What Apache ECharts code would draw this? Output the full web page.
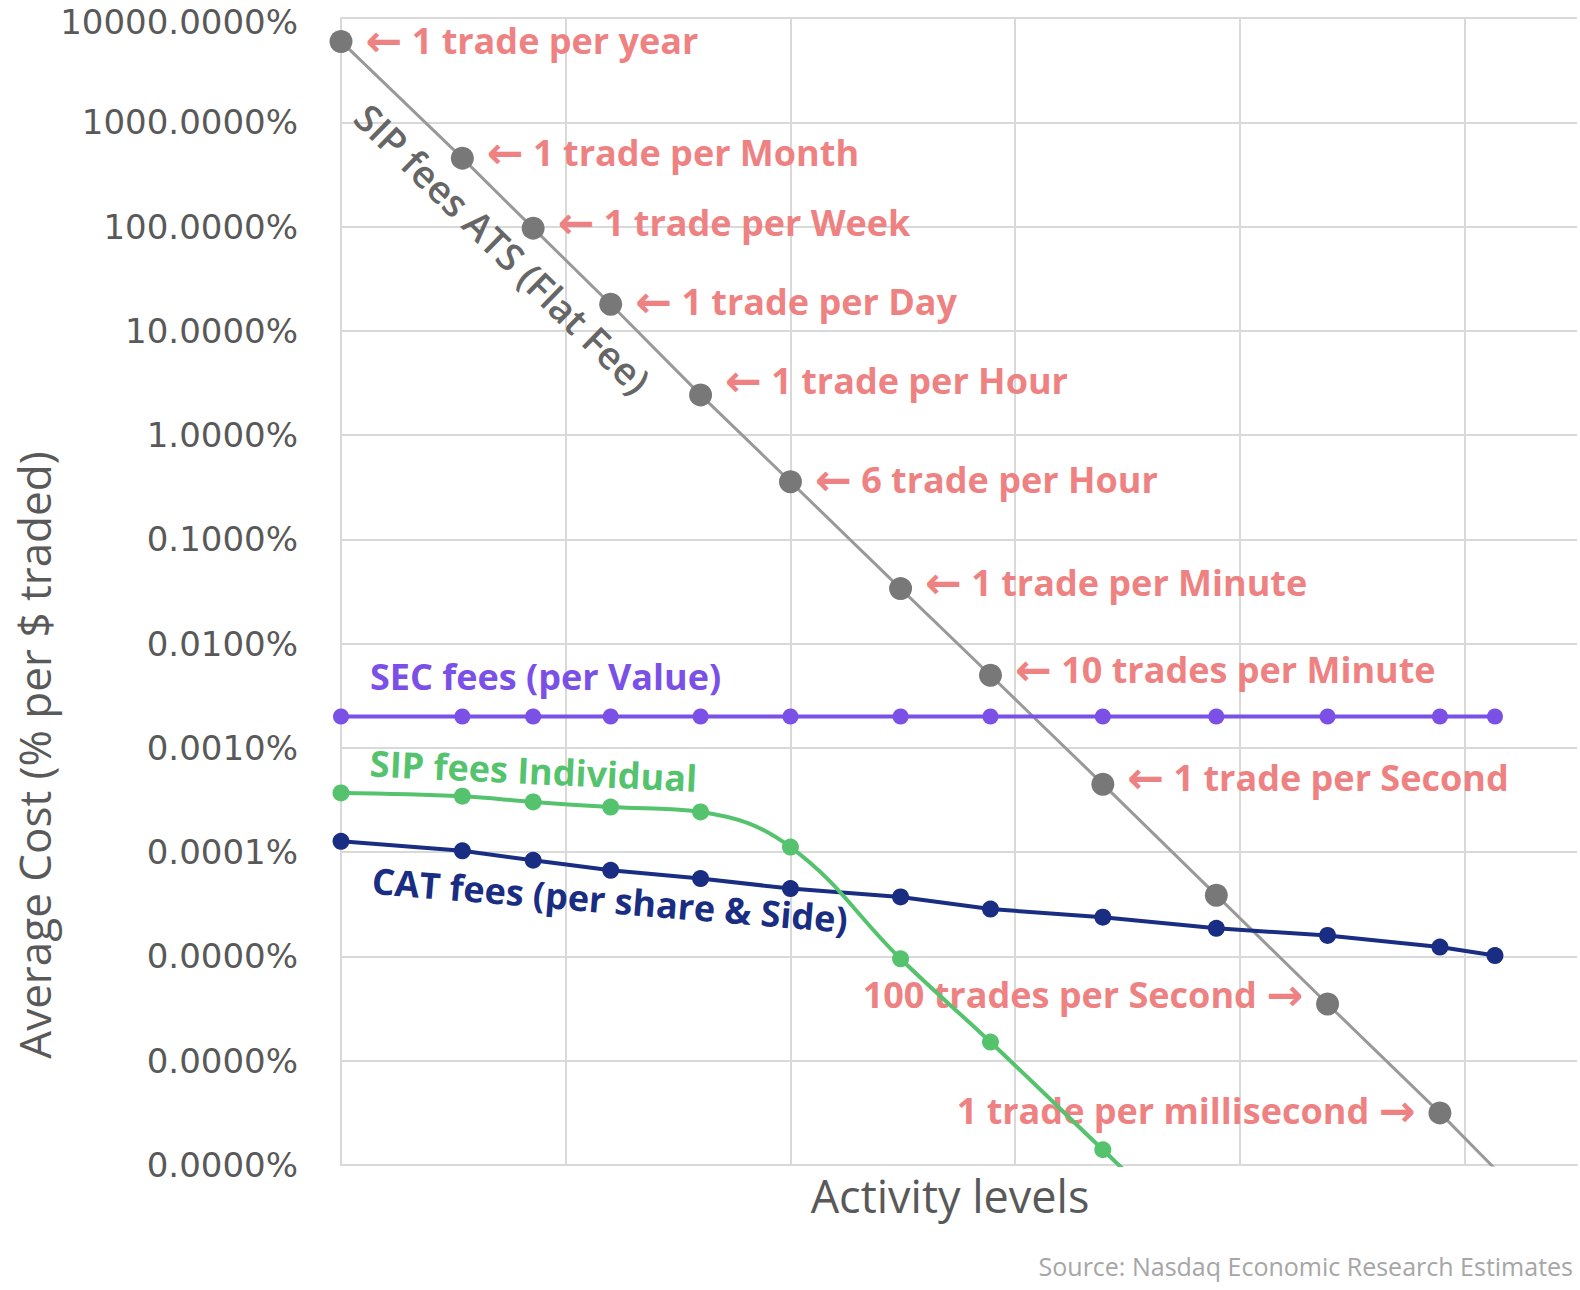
<!DOCTYPE html>
<html><head><meta charset="utf-8">
<script src="https://cdn.jsdelivr.net/npm/echarts@6/dist/echarts.min.js"></script>
<style>html,body{margin:0;padding:0;background:#fff}#c{width:1580px;height:1290px}</style>
</head><body><div id="c"></div>
<script>
// Activity level positions (unitless, shared by all series)
const activityLevels = [0, 0.54, 0.855, 1.20, 1.60, 2.00, 2.49, 2.89, 3.39, 3.895, 4.39, 4.89, 5.135];
// Average cost, % per $ traded
const sipAtsFee = [5960, 453, 96.5, 18.0, 2.43, 0.357, 0.0337, 0.00498, 0.000449, 0.0000387, 0.0000035, 0.000000316, 0.000000092];
const secFee = [0.002, 0.002, 0.002, 0.002, 0.002, 0.002, 0.002, 0.002, 0.002, 0.002, 0.002, 0.002, 0.002];
const sipIndividualFee = [0.00037, 0.000344, 0.000303, 0.000271, 0.000243, 0.000112, 0.0000095, 0.00000151, 0.00000014, 0.0000000128, null, null, null];
const catFee = [0.000127, 0.000103, 0.0000837, 0.000067, 0.0000558, 0.0000448, 0.0000372, 0.0000285, 0.0000238, 0.0000186, 0.0000159, 0.0000123, 0.0000102];
const tradeRateLabels = ['← 1 trade per year', '← 1 trade per Month', '← 1 trade per Week', '← 1 trade per Day', '← 1 trade per Hour', '← 6 trade per Hour', '← 1 trade per Minute', '← 10 trades per Minute', '← 1 trade per Second', '', '100 trades per Second →', '1 trade per millisecond →', ''];
const seriesNames = ['SIP fees ATS (Flat Fee)', 'SEC fees (per Value)', 'SIP fees Individual', 'CAT fees (per share & Side)'];
const yTitle = 'Average Cost (% per $ traded)';
const xTitle = 'Activity levels';
const sourceNote = 'Source: Nasdaq Economic Research Estimates';

// layout nudges (pixels) for rate labels
const labelShiftY = [-1, -6, -6, -3, -14, -2, -6, -6, -7, 0, -9, -2, 0];

const GRID = '#d9d9d9';
const TXT = '#595959';
const SALMON = '#ee8282';
const UI = '"Open Sans", "Noto Sans", sans-serif';

const pairs = arr => activityLevels.map((x, i) => [x, arr[i]]).filter(p => p[1] != null);
const richArrows = t => t.replace(/[←→]/g, m => '{a|' + m + '}');

const grayData = activityLevels.map((x, i) => {
  const item = { value: [x, sipAtsFee[i]] };
  const t = tradeRateLabels[i];
  if (t) {
    item.label = { show: true, formatter: richArrows(t), position: t.endsWith('→') ? 'left' : 'right', distance: 13, offset: [0, labelShiftY[i]] };
  }
  return item;
});

const chart = echarts.init(document.getElementById('c'), null, { renderer: 'svg', width: 1580, height: 1290 });
const option = {
  animation: false,
  backgroundColor: '#ffffff',
  grid: { left: 341, top: 18, right: 3, bottom: 125, outerBoundsMode: 'none' },
  xAxis: {
    type: 'value', min: 0, max: 5.5, interval: 1,
    axisLabel: { show: false }, axisTick: { show: false },
    axisLine: { show: true, onZero: false, lineStyle: { color: GRID, width: 2 } },
    splitLine: { show: true, showMaxLine: false, lineStyle: { color: GRID, width: 2 } }
  },
  yAxis: {
    type: 'log', logBase: 10, min: 1e-7, max: 1e4, interval: 1,
    axisLabel: {
      formatter: v => {
        const s = Number(v).toFixed(4) + '%';
        return v >= 5000 ? '{top|' + s + '}' : s;
      },
      margin: 43, color: TXT, fontSize: 34, fontFamily: '"DejaVu Sans"',
      rich: { top: { color: TXT, fontSize: 34, fontFamily: '"DejaVu Sans"', padding: [8, 0, 0, 0] } }
    },
    axisTick: { show: false },
    axisLine: { show: true, lineStyle: { color: GRID, width: 2 } },
    splitLine: { show: true, lineStyle: { color: GRID, width: 2 } }
  },
  series: [
    {
      name: seriesNames[0], type: 'line', data: grayData, symbol: 'circle', symbolSize: 23,
      itemStyle: { color: '#787878' }, lineStyle: { color: '#999999', width: 3 },
      label: {
        color: SALMON, fontFamily: UI, fontWeight: 'bold', fontSize: 36,
        rich: { a: { color: SALMON, fontFamily: '"DejaVu Sans"', fontWeight: 'bold', fontSize: 44 } }
      },
      z: 2
    },
    {
      name: seriesNames[1], type: 'line', data: pairs(secFee), symbol: 'circle', symbolSize: 16,
      itemStyle: { color: '#7b50e6' }, lineStyle: { color: '#7b50e6', width: 4 }, z: 3
    },
    {
      name: seriesNames[3], type: 'line', data: pairs(catFee), symbol: 'circle', symbolSize: 17,
      itemStyle: { color: '#192d82' }, lineStyle: { color: '#192d82', width: 4 }, z: 3
    },
    {
      name: seriesNames[2], type: 'line', data: pairs(sipIndividualFee), symbol: 'circle', symbolSize: 17,
      smooth: 0.4,
      itemStyle: { color: '#55c36e' }, lineStyle: { color: '#55c36e', width: 4 }, z: 4
    }
  ]
};
chart.setOption(option);

const px = (i, arr) => chart.convertToPixel({ gridIndex: 0 }, [activityLevels[i], arr[i]]);
const g0 = px(1, sipAtsFee), g1 = px(11, sipAtsFee), wk = px(2, sipAtsFee);
const ang = Math.atan2(g1[1] - g0[1], g1[0] - g0[0]);
const sec0 = px(0, secFee), grn0 = px(0, sipIndividualFee), cat0 = px(0, catFee);
const B = (txt, fill) => ({ text: txt, fill: fill, font: 'bold 36px ' + UI, align: 'left', verticalAlign: 'middle' });

chart.setOption({
  graphic: [
    { type: 'text', x: wk[0] - 30, y: wk[1] + 20, rotation: -ang, z: 10,
      style: { text: seriesNames[0], fill: '#666666', font: '600 38px ' + UI, align: 'center', verticalAlign: 'middle' } },
    { type: 'text', x: sec0[0] + 29, y: sec0[1] - 40, z: 10, style: B(seriesNames[1], '#7b50e6') },
    { type: 'text', x: grn0[0] + 29, y: grn0[1] - 30, rotation: -0.047, z: 10, style: B(seriesNames[2], '#55c36e') },
    { type: 'text', x: cat0[0] + 31, y: cat0[1] + 39, rotation: -0.082, z: 10, style: B(seriesNames[3], '#192d82') },
    { type: 'text', x: 34, y: 755, rotation: Math.PI / 2, z: 10,
      style: { text: yTitle, fill: TXT, font: '44px ' + UI, align: 'center', verticalAlign: 'middle' } },
    { type: 'text', x: 950, y: 1195, z: 10,
      style: { text: xTitle, fill: TXT, font: '45px ' + UI, align: 'center', verticalAlign: 'middle' } },
    { type: 'text', x: 1573, y: 1266, z: 10,
      style: { text: sourceNote, fill: '#a6a6a6', font: '25px ' + UI, align: 'right', verticalAlign: 'middle' } }
  ]
});
</script></body></html>
